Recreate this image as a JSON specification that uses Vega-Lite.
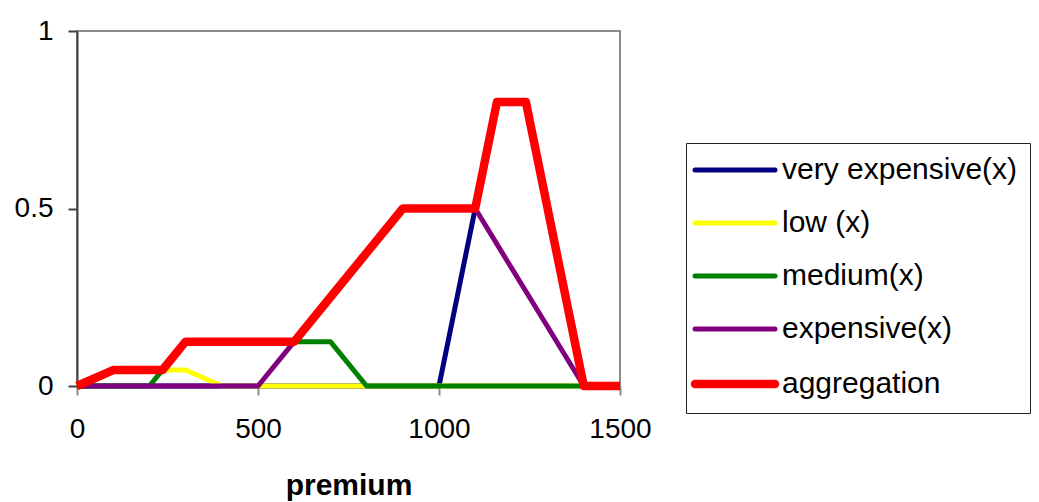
{
  "$schema": "https://vega.github.io/schema/vega-lite/v6.json",
  "autosize": {"type": "none"},
  "padding": {"left": 77, "top": 31, "right": 419, "bottom": 116},
  "width": 543,
  "height": 355,
  "background": "white",
  "config": {
    "view": {"stroke": "#8c8c8c", "strokeWidth": 2},
    "font": "Liberation Sans"
  },
  "data": {
    "values": [
      {"series": "very expensive(x)", "x": 0, "y": 0},
      {"series": "very expensive(x)", "x": 500, "y": 0},
      {"series": "very expensive(x)", "x": 1000, "y": 0},
      {"series": "very expensive(x)", "x": 1100, "y": 0.5},
      {"series": "very expensive(x)", "x": 1160, "y": 0.8},
      {"series": "very expensive(x)", "x": 1240, "y": 0.8},
      {"series": "very expensive(x)", "x": 1300, "y": 0.5},
      {"series": "very expensive(x)", "x": 1400, "y": 0},
      {"series": "very expensive(x)", "x": 1500, "y": 0},

      {"series": "low (x)", "x": 0, "y": 0},
      {"series": "low (x)", "x": 100, "y": 0.045},
      {"series": "low (x)", "x": 200, "y": 0.045},
      {"series": "low (x)", "x": 300, "y": 0.045},
      {"series": "low (x)", "x": 400, "y": 0},
      {"series": "low (x)", "x": 500, "y": 0},
      {"series": "low (x)", "x": 600, "y": 0},
      {"series": "low (x)", "x": 700, "y": 0},
      {"series": "low (x)", "x": 800, "y": 0},
      {"series": "low (x)", "x": 1500, "y": 0},

      {"series": "medium(x)", "x": 0, "y": 0},
      {"series": "medium(x)", "x": 100, "y": 0},
      {"series": "medium(x)", "x": 200, "y": 0},
      {"series": "medium(x)", "x": 300, "y": 0.125},
      {"series": "medium(x)", "x": 400, "y": 0.125},
      {"series": "medium(x)", "x": 500, "y": 0.125},
      {"series": "medium(x)", "x": 600, "y": 0.125},
      {"series": "medium(x)", "x": 700, "y": 0.125},
      {"series": "medium(x)", "x": 800, "y": 0},
      {"series": "medium(x)", "x": 900, "y": 0},
      {"series": "medium(x)", "x": 1000, "y": 0},
      {"series": "medium(x)", "x": 1100, "y": 0},
      {"series": "medium(x)", "x": 1200, "y": 0},
      {"series": "medium(x)", "x": 1300, "y": 0},
      {"series": "medium(x)", "x": 1400, "y": 0},
      {"series": "medium(x)", "x": 1500, "y": 0},

      {"series": "expensive(x)", "x": 0, "y": 0},
      {"series": "expensive(x)", "x": 100, "y": 0},
      {"series": "expensive(x)", "x": 200, "y": 0},
      {"series": "expensive(x)", "x": 300, "y": 0},
      {"series": "expensive(x)", "x": 400, "y": 0},
      {"series": "expensive(x)", "x": 500, "y": 0},
      {"series": "expensive(x)", "x": 600, "y": 0.125},
      {"series": "expensive(x)", "x": 700, "y": 0.25},
      {"series": "expensive(x)", "x": 800, "y": 0.375},
      {"series": "expensive(x)", "x": 900, "y": 0.5},
      {"series": "expensive(x)", "x": 1000, "y": 0.5},
      {"series": "expensive(x)", "x": 1100, "y": 0.5},
      {"series": "expensive(x)", "x": 1200, "y": 0.333},
      {"series": "expensive(x)", "x": 1300, "y": 0.167},
      {"series": "expensive(x)", "x": 1400, "y": 0},
      {"series": "expensive(x)", "x": 1500, "y": 0},

      {"series": "aggregation", "x": 0, "y": 0},
      {"series": "aggregation", "x": 100, "y": 0.045},
      {"series": "aggregation", "x": 200, "y": 0.045},
      {"series": "aggregation", "x": 236, "y": 0.045},
      {"series": "aggregation", "x": 300, "y": 0.125},
      {"series": "aggregation", "x": 400, "y": 0.125},
      {"series": "aggregation", "x": 500, "y": 0.125},
      {"series": "aggregation", "x": 600, "y": 0.125},
      {"series": "aggregation", "x": 700, "y": 0.25},
      {"series": "aggregation", "x": 800, "y": 0.375},
      {"series": "aggregation", "x": 900, "y": 0.5},
      {"series": "aggregation", "x": 1000, "y": 0.5},
      {"series": "aggregation", "x": 1100, "y": 0.5},
      {"series": "aggregation", "x": 1160, "y": 0.8},
      {"series": "aggregation", "x": 1240, "y": 0.8},
      {"series": "aggregation", "x": 1300, "y": 0.5},
      {"series": "aggregation", "x": 1400, "y": 0},
      {"series": "aggregation", "x": 1500, "y": 0}
    ]
  },
  "mark": {"type": "line", "strokeJoin": "round", "clip": false},
  "encoding": {
    "x": {
      "field": "x",
      "type": "quantitative",
      "scale": {"domain": [0, 1500], "nice": false, "zero": false},
      "axis": {
        "values": [0, 500, 1000, 1500],
        "format": "d",
        "title": "premium",
        "grid": false,
        "labelFlush": false,
        "domainColor": "#8c8c8c",
        "domainWidth": 2,
        "tickColor": "#8c8c8c",
        "tickWidth": 2,
        "tickSize": 9,
        "labelFontSize": 28,
        "labelColor": "black",
        "labelPadding": 20,
        "labelFont": "Liberation Sans",
        "titleFont": "Liberation Sans",
        "titleFontSize": 30,
        "titleFontWeight": "bold",
        "titleColor": "black",
        "titlePadding": 27
      }
    },
    "y": {
      "field": "y",
      "type": "quantitative",
      "scale": {"domain": [0, 1], "nice": false},
      "axis": {
        "values": [0, 0.5, 1],
        "format": "~g",
        "title": null,
        "grid": false,
        "labelFlush": false,
        "domainColor": "#404040",
        "domainWidth": 2,
        "tickColor": "#404040",
        "tickWidth": 2,
        "tickSize": 9,
        "labelFontSize": 28,
        "labelColor": "black",
        "labelPadding": 15,
        "labelFont": "Liberation Sans"
      }
    },
    "strokeWidth": {
      "condition": {"test": "datum.series === 'aggregation'", "value": 8.5},
      "value": 5
    },
    "color": {
      "field": "series",
      "type": "nominal",
      "sort": ["very expensive(x)", "low (x)", "medium(x)", "expensive(x)", "aggregation"],
      "scale": {
        "domain": ["very expensive(x)", "low (x)", "medium(x)", "expensive(x)", "aggregation"],
        "range": ["#000080", "#ffff00", "#008000", "#800080", "#ff0000"]
      },
      "legend": {
        "title": null,
        "orient": "none",
        "legendX": 609,
        "legendY": 112,
        "strokeColor": "#222222",
        "padding": 12,
        "symbolType": "M-4,0H4",
        "symbolSize": 400,
        "symbolOffset": 22,
        "labelFontSize": 30,
        "labelFont": "Liberation Sans",
        "labelColor": "black",
        "labelOffset": 32,
        "rowPadding": 23,
        "labelLimit": 400,
        "encode": {
          "symbols": {
            "update": {
              "strokeWidth": {"signal": "datum.value === 'aggregation' ? 8.5 : 5"},
              "strokeCap": {"value": "round"}
            }
          }
        }
      }
    }
  }
}
